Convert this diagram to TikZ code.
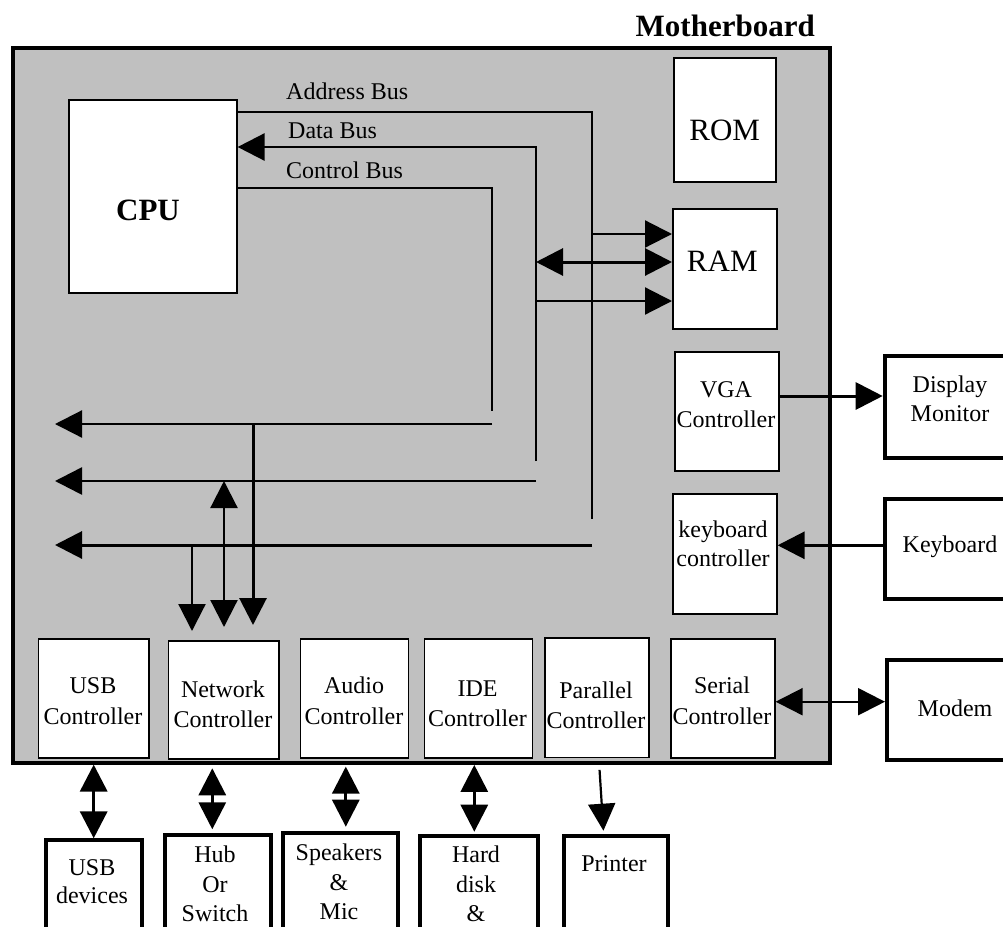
\documentclass[tikz,border=0pt]{standalone}
\usepackage{fontspec}
\setmainfont{Liberation Serif}
\usetikzlibrary{arrows.meta,calc}
\definecolor{mbgray}{HTML}{C0C0C0}
\tikzset{
 box/.style={draw, fill=white, line width=1.6pt, inner sep=0pt, anchor=north west},
 ext/.style={box, line width=4pt},
 txt/.style={font=\fontsize{24}{29}\selectfont, anchor=base, inner sep=0pt},
 bigt/.style={font=\fontsize{31}{37}\selectfont, anchor=base, inner sep=0pt},
 bigb/.style={font=\fontsize{31}{37}\selectfont\bfseries, anchor=base, inner sep=0pt},
 bus/.style={line width=2.2pt},
 hbus/.style={line width=3pt},
 arr/.style={-{Triangle[length=27pt,width=27pt]}},
 darr/.style={{Triangle[length=27pt,width=27pt]}-{Triangle[length=27pt,width=27pt]}},
}
\begin{document}
\begin{tikzpicture}[x=1pt,y=-1pt]
\useasboundingbox (0,0) rectangle (1003,926);
\fill[white] (0,0) rectangle (1003,926);
\clip (0,0) rectangle (1003,926);

% motherboard
\node[box, fill=mbgray, line width=4pt, minimum width=817pt, minimum height=715pt] (mb) at (11,46) {};
\node[bigb, anchor=base east] (mbl) at (815,36) {Motherboard};

% inner boxes
\node[box, minimum width=168pt, minimum height=193pt] (cpu) at (68,99) {};
\node[bigb] (cput) at (148,220) {CPU};
\node[box, minimum width=102pt, minimum height=124pt] (rom) at (673,57) {};
\node[bigt] (romt) at (724.7,140.7) {ROM};
\node[box, minimum width=104pt, minimum height=120pt] (ram) at (672,208) {};
\node[bigt] (ramt) at (722.3,271.7) {RAM};
\node[box, minimum width=104pt, minimum height=119pt] (vga) at (674,351) {};
\node[txt] (vga1) at (726,397) {VGA};
\node[txt] (vga2) at (726,427) {Controller};
\node[box, minimum width=104pt, minimum height=120pt] (kbc) at (672,493) {};
\node[txt] (kbc1) at (723,537) {keyboard};
\node[txt] (kbc2) at (723,566) {controller};
\node[box, minimum width=104pt, minimum height=119pt] (ser) at (670,638) {};
\node[txt] (ser1) at (722,693) {Serial};
\node[txt] (ser2) at (722,724) {Controller};

\node[box, minimum width=110.5pt, minimum height=119pt] (usb) at (37.5,638) {};
\node[txt] (usb1) at (93,693) {USB};
\node[txt] (usb2) at (93,724) {Controller};
\node[box, minimum width=110.3pt, minimum height=118pt] (net) at (167.6,640) {};
\node[txt] (net1) at (223,697) {Network};
\node[txt] (net2) at (223,727) {Controller};
\node[box, minimum width=108pt, minimum height=119pt] (aud) at (299.6,638) {};
\node[txt] (aud1) at (354,693) {Audio};
\node[txt] (aud2) at (354,724) {Controller};
\node[box, minimum width=108pt, minimum height=119pt] (ide) at (423.7,638) {};
\node[txt] (ide1) at (477.5,696) {IDE};
\node[txt] (ide2) at (477.5,726) {Controller};
\node[box, minimum width=104pt, minimum height=119.4pt] (par) at (544,637.3) {};
\node[txt] (par1) at (596,698) {Parallel};
\node[txt] (par2) at (596,728) {Controller};

% external devices
\node[ext, minimum width=140pt, minimum height=101.7pt] (disp) at (882.7,354) {};
\node[txt] (disp1) at (950,392) {Display};
\node[txt] (disp2) at (950,421) {Monitor};
\node[ext, minimum width=140pt, minimum height=100pt] (kbd) at (882.7,496.7) {};
\node[txt] (kbd1) at (950,552) {Keyboard};
\node[ext, minimum width=140pt, minimum height=100pt] (mod) at (885,657.7) {};
\node[txt] (mod1) at (955,716) {Modem};

\node[ext, minimum width=96.8pt, minimum height=150pt] (usbd) at (43.5,838.3) {};
\node[txt] (usbd1) at (92,875) {USB};
\node[txt] (usbd2) at (92,903) {devices};
\node[ext, minimum width=105.6pt, minimum height=150pt] (hub) at (163.2,833.3) {};
\node[txt] (hub1) at (215,862) {Hub};
\node[txt] (hub2) at (215,892) {Or};
\node[txt] (hub3) at (215,921) {Switch};
\node[ext, minimum width=115pt, minimum height=150pt] (spk) at (281.4,831) {};
\node[txt] (spk1) at (339,860) {Speakers};
\node[txt] (spk2) at (339,890) {\&};
\node[txt] (spk3) at (339,919) {Mic};
\node[ext, minimum width=117.4pt, minimum height=150pt] (hdd) at (418.2,834.3) {};
\node[txt] (hdd1) at (476,862) {Hard};
\node[txt] (hdd2) at (476,892) {disk};
\node[txt] (hdd3) at (476,921) {\&};
\node[ext, minimum width=104.3pt, minimum height=150pt] (prn) at (561.7,834.3) {};
\node[txt] (prn1) at (614,871) {Printer};

% bus labels
\node[txt, anchor=base west] (abl) at (286,99) {Address Bus};
\node[txt, anchor=base west] (dbl) at (288,138) {Data Bus};
\node[txt, anchor=base west] (cbl) at (286,178) {Control Bus};

% buses
\coordinate (aT) at (592,112); \coordinate (aB) at (592,519);
\coordinate (aH) at (592,545); \coordinate (aL) at (55,545);
\coordinate (dT) at (536,147); \coordinate (dB) at (536,461);
\coordinate (dH) at (536,481); \coordinate (dL) at (55,481);
\coordinate (cT) at (492,188); \coordinate (cB) at (492,411);
\coordinate (cH) at (492,424); \coordinate (cL) at (55,424);

\draw[bus] (cpu.east |- aT) -- (aT) -- (aB);
\draw[line width=2.6pt, arr] (dB) -- (dT) -- (cpu.east |- dT);
\draw[bus] (cpu.east |- cT) -- (cT) -- (cB);
\draw[hbus, arr] (aH) -- (aL);
\draw[line width=2.6pt, arr] (dH) -- (dL);
\draw[bus, arr] (cH) -- (cL);

% RAM connections
\coordinate (r1) at (592,234);
\coordinate (r2) at (536,262);
\coordinate (r3) at (536,301);
\draw[bus, arr] (r1) -- (ram.west |- r1);
\draw[hbus, darr] (r2) -- (ram.west |- r2);
\draw[bus, arr] (r3) -- (ram.west |- r3);

% network controller drops
\coordinate (n1) at (192,545);
\coordinate (n2) at (224,481);
\coordinate (n3) at (253,424);
\draw[bus, arr, shorten >=9pt] (n1) -- (net.north -| n1);
\draw[bus, darr, shorten >=13pt] (n2) -- (net.north -| n2);
\draw[hbus, arr, shorten >=15pt] (n3) -- (net.north -| n3);

% right side
\coordinate (v1) at (778,396);
\coordinate (k1) at (800,545.3);
\coordinate (m1) at (800,701.7);
\draw[hbus, arr] (vga.east |- v1) -- (disp.west |- v1);
\draw[hbus, arr] (kbd.west |- k1) -- (kbc.east |- k1);
\draw[bus, darr] (ser.east |- m1) -- (mod.west |- m1);

% bottom
\coordinate (xu) at (93.7,0);
\coordinate (xn) at (212.3,0);
\coordinate (xa) at (345.8,0);
\coordinate (xi) at (474.3,0);
\draw[line width=3.5pt, darr, shorten <=6pt] (usb.south -| xu) -- (usbd.north -| xu);
\draw[hbus, darr, shorten <=8.7pt, shorten >=4pt] (net.south -| xn) -- (hub.north -| xn);
\draw[hbus, darr, shorten <=8pt, shorten >=4.3pt] (aud.south -| xa) -- (spk.north -| xa);
\draw[hbus, darr, shorten <=6.3pt, shorten >=2.6pt] (ide.south -| xi) -- (hdd.north -| xi);
\draw[bus, arr, shorten <=11.6pt, shorten >=3.6pt] ($(par.south)+(2,0)$) -- ($(prn.north)+(-12.2,0)$);
\end{tikzpicture}
\end{document}
